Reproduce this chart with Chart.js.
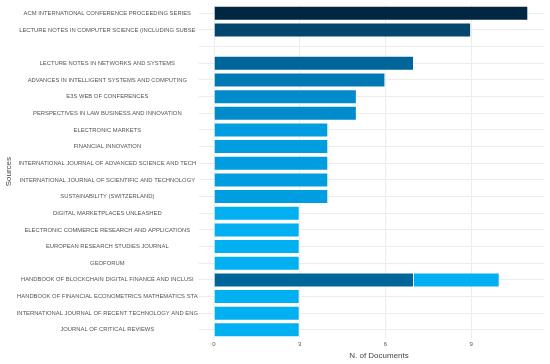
<!DOCTYPE html>
<html>
<head>
<meta charset="utf-8">
<script src="https://cdn.jsdelivr.net/npm/chart.js@4/dist/chart.umd.min.js"></script>
<style>
  html, body { margin: 0; padding: 0; background: #fff; }
  #wrap { width: 550px; height: 364px; }
</style>
</head>
<body>
<div id="wrap"><canvas id="c" width="550" height="364"></canvas></div>
<script>
const sources = [
  "ACM INTERNATIONAL CONFERENCE PROCEEDING SERIES",
  "LECTURE NOTES IN COMPUTER SCIENCE (INCLUDING SUBSE",
  "",
  "LECTURE NOTES IN NETWORKS AND SYSTEMS",
  "ADVANCES IN INTELLIGENT SYSTEMS AND COMPUTING",
  "E3S WEB OF CONFERENCES",
  "PERSPECTIVES IN LAW BUSINESS AND INNOVATION",
  "ELECTRONIC MARKETS",
  "FINANCIAL INNOVATION",
  "INTERNATIONAL JOURNAL OF ADVANCED SCIENCE AND TECH",
  "INTERNATIONAL JOURNAL OF SCIENTIFIC AND TECHNOLOGY",
  "SUSTAINABILITY (SWITZERLAND)",
  "DIGITAL MARKETPLACES UNLEASHED",
  "ELECTRONIC COMMERCE RESEARCH AND APPLICATIONS",
  "EUROPEAN RESEARCH STUDIES JOURNAL",
  "GEOFORUM",
  "HANDBOOK OF BLOCKCHAIN DIGITAL FINANCE AND INCLUSI",
  "HANDBOOK OF FINANCIAL ECONOMETRICS MATHEMATICS STA",
  "INTERNATIONAL JOURNAL OF RECENT TECHNOLOGY AND ENG",
  "JOURNAL OF CRITICAL REVIEWS"
];
// documents per source (first entry of a label)
const documents = [11, 9, null, 7, 6, 5, 5, 4, 4, 4, 4, 4, 3, 3, 3, 3, 7, 3, 3, 3];
// second source sharing the same truncated label (stacked on top)
const documentsShared = [null, null, null, null, null, null, null, null, null, null, null, null, null, null, null, null, 3, null, null, null];
const xTicks = [0, 3, 6, 9];

function colorFor(v) {
  const map = {11: '#002642', 10: '#003558', 9: '#00466e', 8: '#005684', 7: '#00669a', 6: '#0078b4', 5: '#008ccc', 4: '#009ee0', 3: '#00b0f0'};
  return map[v] || '#00b0f0';
}

const ctx = document.getElementById('c').getContext('2d');
new Chart(ctx, {
  type: 'bar',
  data: {
    labels: sources,
    datasets: [
      {
        data: documents,
        backgroundColor: documents.map(v => colorFor(v)),
        borderColor: 'rgba(255,255,255,0.35)',
        borderWidth: 1,
        barPercentage: 0.9,
        categoryPercentage: 1.0
      },
      {
        data: documentsShared,
        backgroundColor: documentsShared.map(v => colorFor(v)),
        borderColor: 'rgba(255,255,255,0.35)',
        borderWidth: 1,
        barPercentage: 0.9,
        categoryPercentage: 1.0
      }
    ]
  },
  options: {
    indexAxis: 'y',
    responsive: false,
    animation: false,
    layout: { padding: { top: 5, right: 6, bottom: 3, left: 0 } },
    plugins: { legend: { display: false }, tooltip: { enabled: false } },
    scales: {
      x: {
        stacked: true,
        min: 0,
        max: 11.55,
        afterBuildTicks: (s) => { s.ticks = xTicks.map(v => ({ value: v })); },
        ticks: { font: { family: 'Liberation Sans', size: 6 }, color: '#555', padding: 3 },
        grid: { color: '#ececec', drawTicks: false },
        border: { display: false },
        title: { display: true, text: 'N. of Documents', font: { family: 'Liberation Sans', size: 8 }, color: '#444', padding: { top: 0, bottom: 0 } }
      },
      y: {
        stacked: true,
        afterFit: (s) => { s.width = 214; },
        ticks: { font: { family: 'Liberation Sans', size: 5.85 }, color: '#555', crossAlign: 'center', padding: 1, autoSkip: false },
        grid: { color: '#ececec', offset: false, drawTicks: true, tickLength: 15, tickColor: '#ececec' },
        border: { display: false },
        title: { display: true, text: 'Sources', font: { family: 'Liberation Sans', size: 8 }, color: '#444', padding: { top: 4, bottom: 0 } }
      }
    }
  }
});
</script>
</body>
</html>
